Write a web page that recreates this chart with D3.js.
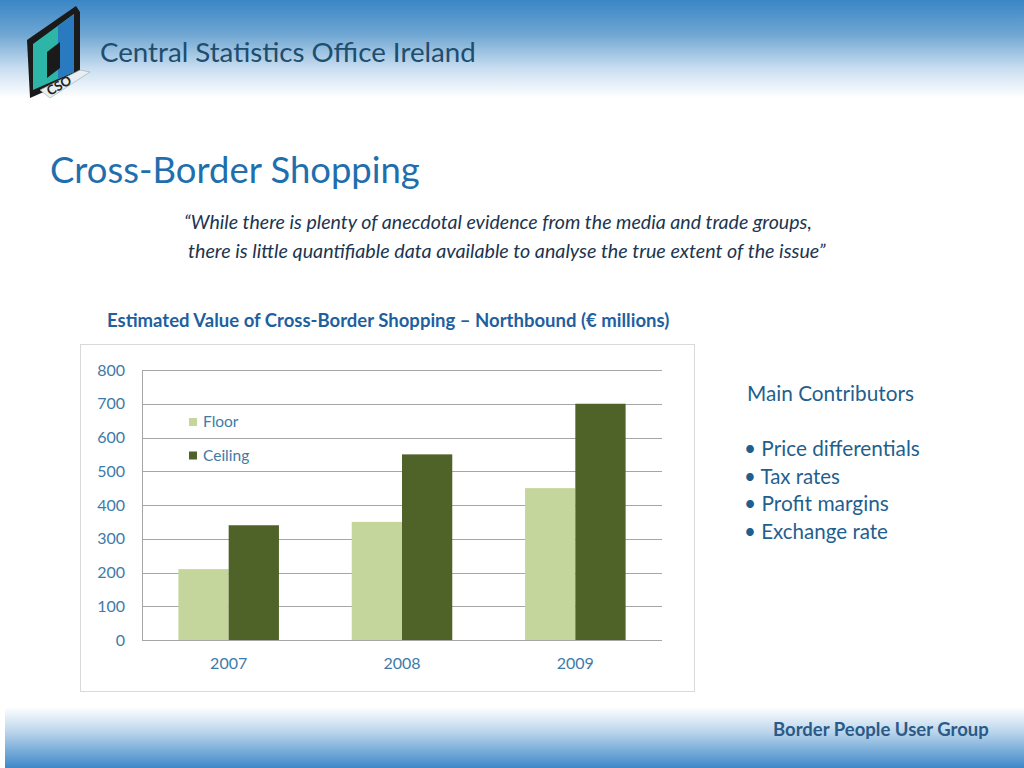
<!DOCTYPE html>
<html><head><meta charset="utf-8">
<script src="https://cdn.jsdelivr.net/npm/d3@7"></script>
<style>
html,body{margin:0;padding:0;background:#fff;}
svg{display:block;}
</style></head>
<body>
<svg id="c" width="1024" height="768"></svg>
<script>
const categories = ["2007", "2008", "2009"];
const seriesNames = ["Floor", "Ceiling"];
const floorValues = [210, 350, 450];
const ceilingValues = [340, 550, 700];
const yTicks = [0, 100, 200, 300, 400, 500, 600, 700, 800];
const bullets = ["Price differentials", "Tax rates", "Profit margins", "Exchange rate"];

const FONT = "Lato, 'Open Sans', sans-serif";
const svg = d3.select("#c");

function fit(sel, target){
  const n = sel.node();
  const w = n.getComputedTextLength();
  const fs = parseFloat(sel.attr("font-size") || getComputedStyle(n).fontSize);
  if (w > 0) sel.attr("font-size", fs * target / w);
  return sel;
}

const defs = svg.append("defs");
const hg = defs.append("linearGradient").attr("id","hg").attr("x1",0).attr("y1",0).attr("x2",0).attr("y2",1);
hg.append("stop").attr("offset","0").attr("stop-color","#3a86c6");
hg.append("stop").attr("offset","0.35").attr("stop-color","#6fa6d2");
hg.append("stop").attr("offset","0.7").attr("stop-color","#c9def0");
hg.append("stop").attr("offset","1").attr("stop-color","#ffffff");
const fg = defs.append("linearGradient").attr("id","fg").attr("x1",0).attr("y1",0).attr("x2",0).attr("y2",1);
fg.append("stop").attr("offset","0").attr("stop-color","#ffffff");
fg.append("stop").attr("offset","0.4").attr("stop-color","#bcd6ec");
fg.append("stop").attr("offset","1").attr("stop-color","#3c88c8");

svg.append("rect").attr("x",0).attr("y",0).attr("width",1024).attr("height",98).attr("fill","url(#hg)");
svg.append("rect").attr("x",5).attr("y",707).attr("width",1019).attr("height",61).attr("fill","url(#fg)");

// Logo
const logo = svg.append("g");
logo.append("polygon").attr("points","27,40 76,6 80,12 80,76 30,98").attr("fill","#1a1a1a");
logo.append("polygon").attr("points","33,44 74,14 74,72 33,90").attr("fill","#2db5a8");
logo.append("polygon").attr("points","58,26 74,14 74,72 58,79").attr("fill","#2a7ac0");
logo.append("polygon").attr("points","47,52 60,42 60,68 47,78").attr("fill","#1a1a1a");
logo.append("polygon").attr("points","40,90 80,70 90,72 50,98").attr("fill","#e9eef3").attr("stroke","#9aa").attr("stroke-width",0.6);
logo.append("text").attr("x",50).attr("y",96).attr("transform","rotate(-30 50 96)")
  .attr("font-family",FONT).attr("font-size",13).attr("font-weight","bold").attr("fill","#222").text("CSO");
fit(svg.append("text").attr("x",100).attr("y",62).attr("font-family",FONT)
  .attr("font-size",27).attr("fill","#1f4d6d").text("Central Statistics Office Ireland"), 376);

// Title
fit(svg.append("text").attr("x",50).attr("y",183).attr("font-family",FONT)
  .attr("font-size",33).attr("fill","#1f6fae").text("Cross-Border Shopping"), 370);

const q = svg.append("g").attr("font-family",FONT).attr("fill","#1c3550").attr("font-style","italic");
fit(q.append("text").attr("x",184).attr("y",229).attr("font-size",17).text("“While there is plenty of anecdotal evidence from the media and trade groups,"), 628);
fit(q.append("text").attr("x",188).attr("y",258).attr("font-size",17).text("there is little quantifiable data available to analyse the true extent of the issue”"), 638);

fit(svg.append("text").attr("x",107).attr("y",327).attr("font-family",FONT)
  .attr("font-weight","bold").attr("font-size",16).attr("fill","#1f5f9f")
  .text("Estimated Value of Cross-Border Shopping – Northbound (€ millions)"), 563);

// Chart box
svg.append("rect").attr("x",80.5).attr("y",344.5).attr("width",614).attr("height",347).attr("fill","#fff").attr("stroke","#d9d9d9");

const x0 = d3.scaleBand().domain(categories).range([142,662]).paddingInner(0.42).paddingOuter(0.21);
const x1 = d3.scaleBand().domain(seriesNames).range([0, x0.bandwidth()]);
const y = d3.scaleLinear().domain([0,800]).range([640,370]);
const colors = {Floor:"#c4d69b", Ceiling:"#4f6228"};

const g = svg.append("g");
g.selectAll("line.grid").data(yTicks).join("line").attr("class","grid")
  .attr("x1",142).attr("x2",662).attr("y1",d=>Math.round(y(d))+0.5).attr("y2",d=>Math.round(y(d))+0.5)
  .attr("stroke","#a6a6a6").attr("stroke-width",1);
g.append("line").attr("x1",142.5).attr("x2",142.5).attr("y1",370).attr("y2",640).attr("stroke","#a6a6a6");

const data = categories.map((c,i)=>({cat:c, vals:[{s:"Floor",v:floorValues[i]},{s:"Ceiling",v:ceilingValues[i]}]}));
g.selectAll("g.cat").data(data).join("g").attr("class","cat").attr("transform",d=>`translate(${x0(d.cat)},0)`)
  .selectAll("rect").data(d=>d.vals).join("rect")
  .attr("x",d=>x1(d.s)).attr("width",x1.bandwidth()).attr("y",d=>y(d.v)).attr("height",d=>640-y(d.v))
  .attr("fill",d=>colors[d.s]);

const yAxis = d3.axisLeft(y).tickValues(yTicks).tickSize(0).tickPadding(17);
const ya = svg.append("g").attr("transform","translate(142,0)").call(yAxis);
ya.select(".domain").remove();
ya.selectAll("text").attr("font-family",FONT).attr("font-size",16).attr("fill","#3d7ba8");

const xAxis = d3.axisBottom(x0).tickSize(0).tickPadding(18);
const xa = svg.append("g").attr("transform","translate(0,640)").call(xAxis);
xa.select(".domain").remove();
xa.selectAll("text").attr("font-family",FONT).attr("font-size",16).attr("fill","#3d7ba8");

// Legend
const lg = svg.append("g");
seriesNames.forEach((s,i)=>{
  const ly = 422 + i*33.5;
  lg.append("rect").attr("x",189).attr("y",ly-4).attr("width",8).attr("height",8).attr("fill",colors[s]);
  lg.append("text").attr("x",203).attr("y",ly+5).attr("font-family",FONT).attr("font-size",15.5).attr("fill","#3d7ba8").text(s);
});

// Right text
const rt = svg.append("g").attr("font-family",FONT).attr("fill","#1f5f8f");
fit(rt.append("text").attr("x",747).attr("y",401).attr("font-size",19).text("Main Contributors"), 167);
const bw = [176, 96, 145, 144];
bullets.forEach((b,i)=>{
  fit(rt.append("text").attr("x",744).attr("y",456+i*27.5).attr("font-size",20).text("• "+b), bw[i]);
});

fit(svg.append("text").attr("x",773).attr("y",736).attr("font-family",FONT)
  .attr("font-weight","bold").attr("font-size",17).attr("fill","#2b5a88").text("Border People User Group"), 216);
</script>
</body></html>
